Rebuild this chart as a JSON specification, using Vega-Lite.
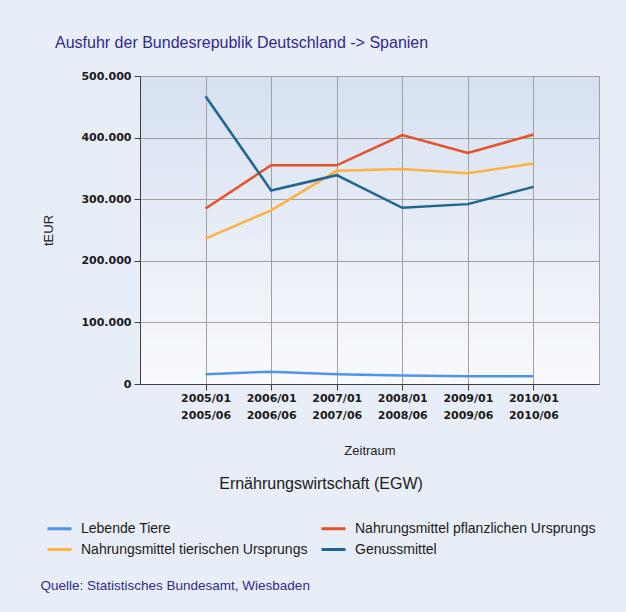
{
  "$schema": "https://vega.github.io/schema/vega-lite/v6.json",
  "autosize": {"type": "none"},
  "width": 459,
  "height": 308,
  "padding": {"left": 140, "top": 76, "right": 27, "bottom": 228},
  "background": "#e8eef7",
  "config": {
    "locale": {"number": {"decimal": ",", "thousands": ".", "grouping": [3], "currency": ["", " €"]}},
    "view": {
      "stroke": "#a0a0a0",
      "strokeWidth": 1,
      "fill": {"gradient": "linear", "x1": 0, "y1": 0, "x2": 0, "y2": 1,
        "stops": [{"offset": 0, "color": "#d6e0f0"}, {"offset": 1, "color": "#f8fafd"}]}
    }
  },
  "title": {
    "text": "Ausfuhr der Bundesrepublik Deutschland -> Spanien",
    "anchor": "start",
    "frame": "group",
    "dx": -85,
    "offset": 19,
    "font": "Liberation Sans",
    "fontSize": 16,
    "fontWeight": "normal",
    "color": "#2f2a8c"
  },
  "data": {
    "values": [
      {"Zeitraum": "2005/01\n2005/06", "Reihe": "Lebende Tiere", "tEUR": 16000},
      {"Zeitraum": "2006/01\n2006/06", "Reihe": "Lebende Tiere", "tEUR": 20000},
      {"Zeitraum": "2007/01\n2007/06", "Reihe": "Lebende Tiere", "tEUR": 16000},
      {"Zeitraum": "2008/01\n2008/06", "Reihe": "Lebende Tiere", "tEUR": 14000},
      {"Zeitraum": "2009/01\n2009/06", "Reihe": "Lebende Tiere", "tEUR": 12500},
      {"Zeitraum": "2010/01\n2010/06", "Reihe": "Lebende Tiere", "tEUR": 12500},
      {"Zeitraum": "2005/01\n2005/06", "Reihe": "Nahrungsmittel pflanzlichen Ursprungs", "tEUR": 285000},
      {"Zeitraum": "2006/01\n2006/06", "Reihe": "Nahrungsmittel pflanzlichen Ursprungs", "tEUR": 355000},
      {"Zeitraum": "2007/01\n2007/06", "Reihe": "Nahrungsmittel pflanzlichen Ursprungs", "tEUR": 355000},
      {"Zeitraum": "2008/01\n2008/06", "Reihe": "Nahrungsmittel pflanzlichen Ursprungs", "tEUR": 404000},
      {"Zeitraum": "2009/01\n2009/06", "Reihe": "Nahrungsmittel pflanzlichen Ursprungs", "tEUR": 375000},
      {"Zeitraum": "2010/01\n2010/06", "Reihe": "Nahrungsmittel pflanzlichen Ursprungs", "tEUR": 405000},
      {"Zeitraum": "2005/01\n2005/06", "Reihe": "Nahrungsmittel tierischen Ursprungs", "tEUR": 236000},
      {"Zeitraum": "2006/01\n2006/06", "Reihe": "Nahrungsmittel tierischen Ursprungs", "tEUR": 282000},
      {"Zeitraum": "2007/01\n2007/06", "Reihe": "Nahrungsmittel tierischen Ursprungs", "tEUR": 346000},
      {"Zeitraum": "2008/01\n2008/06", "Reihe": "Nahrungsmittel tierischen Ursprungs", "tEUR": 349000},
      {"Zeitraum": "2009/01\n2009/06", "Reihe": "Nahrungsmittel tierischen Ursprungs", "tEUR": 342000},
      {"Zeitraum": "2010/01\n2010/06", "Reihe": "Nahrungsmittel tierischen Ursprungs", "tEUR": 358000},
      {"Zeitraum": "2005/01\n2005/06", "Reihe": "Genussmittel", "tEUR": 467000},
      {"Zeitraum": "2006/01\n2006/06", "Reihe": "Genussmittel", "tEUR": 314000},
      {"Zeitraum": "2007/01\n2007/06", "Reihe": "Genussmittel", "tEUR": 339000},
      {"Zeitraum": "2008/01\n2008/06", "Reihe": "Genussmittel", "tEUR": 286000},
      {"Zeitraum": "2009/01\n2009/06", "Reihe": "Genussmittel", "tEUR": 292000},
      {"Zeitraum": "2010/01\n2010/06", "Reihe": "Genussmittel", "tEUR": 320000}
    ]
  },
  "resolve": {"axis": {"x": "independent"}},
  "layer": [
    {
      "mark": {"type": "line", "strokeWidth": 2.5, "interpolate": "linear"},
      "encoding": {
        "x": {
          "field": "Zeitraum",
          "type": "ordinal",
          "sort": null,
          "scale": {"type": "point", "padding": 1},
          "axis": {
            "title": "Zeitraum",
            "titleFont": "Liberation Sans",
            "titleFontSize": 13,
            "titleFontWeight": "normal",
            "titleColor": "#222222",
            "titleBaseline": "middle",
            "titleY": 66,
            "labelExpr": "split(datum.label, '\\n')",
            "labelAngle": 0,
            "labelFont": "DejaVu Sans",
            "labelFontSize": 11,
            "labelFontWeight": "bold",
            "labelColor": "#1a1a1a",
            "labelLineHeight": 17,
            "labelPadding": 2,
            "tickSize": 6,
            "tickColor": "#404040",
            "domainColor": "#404040",
            "grid": true,
            "gridColor": "#a0a0a0",
            "gridWidth": 1
          }
        },
        "y": {
          "field": "tEUR",
          "type": "quantitative",
          "scale": {"domain": [0, 500000], "nice": false},
          "axis": {
            "title": "tEUR",
            "titleFont": "Liberation Sans",
            "titleFontSize": 13,
            "titleFontWeight": "normal",
            "titleColor": "#222222",
            "titleX": -92,
            "titleY": 154,
            "titleAngle": 270,
            "titleAlign": "center",
            "titleBaseline": "middle",
            "values": [0, 100000, 200000, 300000, 400000, 500000],
            "format": ",d",
            "labelFont": "DejaVu Sans",
            "labelFontSize": 11,
            "labelFontWeight": "bold",
            "labelColor": "#1a1a1a",
            "labelPadding": 3,
            "tickSize": 6,
            "tickColor": "#404040",
            "domainColor": "#404040",
            "grid": true,
            "gridColor": "#a0a0a0",
            "gridWidth": 1
          }
        },
        "color": {
          "field": "Reihe",
          "type": "nominal",
          "scale": {
            "domain": ["Lebende Tiere", "Nahrungsmittel pflanzlichen Ursprungs", "Nahrungsmittel tierischen Ursprungs", "Genussmittel"],
            "range": ["#4f93ee", "#e8502a", "#ffb240", "#1f6590"]
          },
          "legend": {
            "orient": "none",
            "legendX": -94,
            "legendY": 400,
            "direction": "horizontal",
            "columns": 2,
            "padding": 0,
            "title": "Ernährungswirtschaft (EGW)",
            "titleLimit": 600,
            "titleAnchor": "middle",
            "titleFont": "Liberation Sans",
            "titleFontSize": 16,
            "titleFontWeight": "normal",
            "titleColor": "#1a1a1a",
            "titlePadding": 23,
            "symbolType": "stroke",
            "symbolSize": 576,
            "symbolStrokeWidth": 3,
            "labelFont": "Liberation Sans",
            "labelFontSize": 14,
            "labelColor": "#1a1a1a",
            "labelOffset": 8,
            "labelLimit": 400,
            "rowPadding": -8,
            "columnPadding": 7
          }
        }
      }
    },
    {
      "mark": {"type": "line", "opacity": 0},
      "encoding": {
        "x": {
          "field": "Zeitraum",
          "type": "ordinal",
          "sort": null,
          "axis": {
            "orient": "top",
            "title": "Quelle: Statistisches Bundesamt, Wiesbaden",
            "titleFont": "Liberation Sans",
            "titleFontSize": 13.5,
            "titleFontWeight": "normal",
            "titleColor": "#2f2a8c",
            "titleX": -100,
            "titleY": 509,
            "titleAlign": "left",
            "titleAnchor": "start",
            "titleBaseline": "middle",
            "labels": false,
            "ticks": false,
            "domain": false,
            "grid": false
          }
        },
        "y": {"field": "tEUR", "type": "quantitative"}
      }
    }
  ]
}
